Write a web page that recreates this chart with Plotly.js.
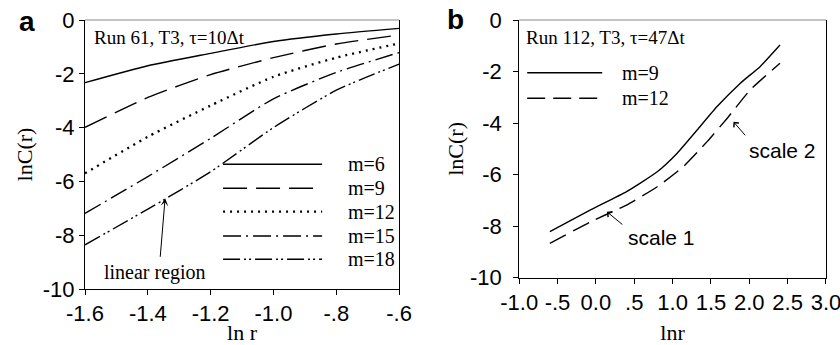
<!DOCTYPE html>
<html>
<head>
<meta charset="utf-8">
<script src="https://cdn.plot.ly/plotly-3.0.1.min.js"></script>
<style>
html,body{margin:0;padding:0;background:#fff;}
#chart{width:840px;height:345px;}
</style>
</head>
<body>
<div id="chart"></div>
<script>
// ---------- DATA ----------
// Panel a: Run 61, T3, tau=10Δt
const xA = [-1.6, -1.4, -1.2, -1.0, -0.8, -0.6];
const aM6  = [-2.33, -1.70, -1.24, -0.80, -0.52, -0.31];
const aM9  = [-3.99, -2.88, -2.03, -1.40, -0.89, -0.56];
const aM12 = [-5.70, -4.34, -3.18, -2.11, -1.40, -0.87];
const aM15 = [-7.19, -5.82, -4.40, -2.93, -1.95, -1.21];
const aM18 = [-8.36, -7.03, -5.64, -4.00, -2.61, -1.64];
const aNames = ["m=6", "m=9", "m=12", "m=15", "m=18"];

// Panel b: Run 112, T3, tau=47Δt
const xB9  = [-0.6, -0.07, 0.40, 0.80, 1.06, 1.32, 1.58, 1.88, 2.14, 2.40];
const bM9  = [-8.21, -7.37, -6.66, -5.89, -5.17, -4.27, -3.36, -2.46, -1.81, -0.97];
const xB12 = [-0.6, -0.07, 0.40, 0.80, 1.14, 1.45, 1.71, 2.01, 2.40];
const bM12 = [-8.67, -7.83, -7.18, -6.47, -5.69, -4.72, -3.82, -2.72, -1.68];
const bNames = ["m=9", "m=12"];

// Tick labels
const xTickValsA = [-1.6, -1.4, -1.2, -1.0, -0.8, -0.6];
const xTickTextA = ["-1.6", "-1.4", "-1.2", "-1.0", "-.8", "-.6"];
const xTickValsB = [-1.0, -0.5, 0.0, 0.5, 1.0, 1.5, 2.0, 2.5, 3.0];
const xTickTextB = ["-1.0", "-.5", "0.0", ".5", "1.0", "1.5", "2.0", "2.5", "3.0"];
const yTickVals = [0, -2, -4, -6, -8, -10];
const yTickText = ["0", "-2", "-4", "-6", "-8", "-10"];

// ---------- STYLE / LAYOUT ----------
const W = 840, H = 345, ML = 85, MR = 14.3, MT = 20, MB = 56;
const PW = W - ML - MR, PH = H - MT - MB;
const px = v => (v - ML) / PW;          // pixel x -> paper x
const py = v => (H - MB - v) / PH;      // pixel y -> paper y

const SANS = "Arial, 'Liberation Sans', sans-serif";
const SERIF = "'Times New Roman', 'Liberation Serif', serif";
const LW = 1.4;
const dashA = ["solid", "24px,9px", "2px,5px", "18px,5px,2px,5px", "17px,4px,2px,3px,2px,4px"];
const widthA = [LW, LW, 2.3, LW, LW];
const dashB = ["solid", "18px,8px"];
const seriesA = [aM6, aM9, aM12, aM15, aM18];

const traces = [];
seriesA.forEach((ys, i) => {
  traces.push({
    x: xA, y: ys, name: aNames[i], type: "scatter", mode: "lines",
    xaxis: "x", yaxis: "y", showlegend: false,
    line: {color: "#000", width: widthA[i], dash: dashA[i], shape: "spline", smoothing: 0.6}
  });
});
traces.push({x: xB9, y: bM9, name: bNames[0], type: "scatter", mode: "lines",
  xaxis: "x2", yaxis: "y2", showlegend: false,
  line: {color: "#000", width: LW, dash: dashB[0], shape: "spline", smoothing: 0.5}});
traces.push({x: xB12, y: bM12, name: bNames[1], type: "scatter", mode: "lines",
  xaxis: "x2", yaxis: "y2", showlegend: false,
  line: {color: "#000", width: LW, dash: dashB[1], shape: "spline", smoothing: 0.5}});

const axisCommon = {
  showgrid: false, zeroline: false, showline: true, linecolor: "#000", linewidth: 1,
  ticks: "outside", ticklen: 5, tickwidth: 1, tickcolor: "#000",
  ticklabeloverflow: "allow",
  tickfont: {family: SANS, size: 22, color: "#000"}, fixedrange: true
};

const domA = [0, px(399)], domB = [px(519), 1];
const domBy = [py(277.7), 1];

const shapes = [];
const annotations = [];

// Box edges (top grey, right via mirror)
shapes.push({type: "line", xref: "paper", yref: "paper", x0: domA[0], x1: domA[1], y0: 1, y1: 1,
  line: {color: "#888", width: 1}});
shapes.push({type: "line", xref: "paper", yref: "paper", x0: domB[0], x1: domB[1], y0: 1, y1: 1,
  line: {color: "#888", width: 1}});

// Legend panel a
const legRowsA = [164.3, 188.3, 211.7, 236, 259.3];
aNames.forEach((nm, i) => {
  shapes.push({type: "line", xref: "paper", yref: "paper",
    x0: px(223), x1: px(322), y0: py(legRowsA[i]), y1: py(legRowsA[i]),
    line: {color: "#000", width: widthA[i], dash: dashA[i]}});
  annotations.push({xref: "paper", yref: "paper", x: px(346), y: py(legRowsA[i]),
    xanchor: "left", yanchor: "middle", showarrow: false, text: nm,
    font: {family: SERIF, size: 20, color: "#000"}});
});
// Legend panel b
const legRowsB = [72.7, 98.3];
bNames.forEach((nm, i) => {
  shapes.push({type: "line", xref: "paper", yref: "paper",
    x0: px(527), x1: px(602), y0: py(legRowsB[i]), y1: py(legRowsB[i]),
    line: {color: "#000", width: LW, dash: dashB[i]}});
  annotations.push({xref: "paper", yref: "paper", x: px(620), y: py(legRowsB[i]),
    xanchor: "left", yanchor: "middle", showarrow: false, text: nm,
    font: {family: SERIF, size: 20, color: "#000"}});
});

// Panel labels
annotations.push({xref: "paper", yref: "paper", x: px(17), y: py(21), xanchor: "left", yanchor: "middle",
  showarrow: false, text: "<b>a</b>", font: {family: SANS, size: 28, color: "#000"}});
annotations.push({xref: "paper", yref: "paper", x: px(445), y: py(19), xanchor: "left", yanchor: "middle",
  showarrow: false, text: "<b>b</b>", font: {family: SANS, size: 28, color: "#000"}});

// Run info
annotations.push({xref: "paper", yref: "paper", x: px(92), y: py(37), xanchor: "left", yanchor: "middle",
  showarrow: false, text: "Run 61, T3, τ=10Δt", font: {family: SERIF, size: 19, color: "#000"}});
annotations.push({xref: "paper", yref: "paper", x: px(524), y: py(37), xanchor: "left", yanchor: "middle",
  showarrow: false, text: "Run 112, T3, τ=47Δt", font: {family: SERIF, size: 19, color: "#000"}});

// Annotated regions
annotations.push({xref: "paper", yref: "paper", x: px(155), y: py(272), xanchor: "center", yanchor: "middle",
  showarrow: false, text: "linear region", font: {family: SERIF, size: 20, color: "#000"}});
annotations.push({xref: "x", yref: "y", x: -1.345, y: -6.63, ax: -5, ay: 60, text: "",
  showarrow: true, arrowhead: 3, arrowsize: 1.3, arrowwidth: 1, arrowcolor: "#000"});

annotations.push({xref: "paper", yref: "paper", x: px(661), y: py(237), xanchor: "center", yanchor: "middle",
  showarrow: false, text: "scale 1", font: {family: SANS, size: 21, color: "#000"}});
annotations.push({xref: "x2", yref: "y2", x: 0.143, y: -7.44, ax: 17, ay: 14, text: "",
  showarrow: true, arrowhead: 4, arrowsize: 1.3, arrowwidth: 1, arrowcolor: "#000"});
annotations.push({xref: "paper", yref: "paper", x: px(782), y: py(150), xanchor: "center", yanchor: "middle",
  showarrow: false, text: "scale 2", font: {family: SANS, size: 21, color: "#000"}});
annotations.push({xref: "x2", yref: "y2", x: 1.794, y: -3.95, ax: 13, ay: 15, text: "",
  showarrow: true, arrowhead: 4, arrowsize: 1.3, arrowwidth: 1, arrowcolor: "#000"});

const layout = {
  width: W, height: H,
  margin: {l: ML, r: MR, t: MT, b: MB, pad: 0},
  paper_bgcolor: "#fff", plot_bgcolor: "#fff",
  showlegend: false,
  xaxis: Object.assign({}, axisCommon, {
    domain: domA, anchor: "y", range: [-1.6, -0.6],
    tickmode: "array", tickvals: xTickValsA, ticktext: xTickTextA,
    title: {text: "ln r", font: {family: SERIF, size: 22, color: "#000"}, standoff: 7}
  }),
  yaxis: Object.assign({}, axisCommon, {
    domain: [0, 1], anchor: "x", range: [-10, 0], mirror: true,
    tickmode: "array", tickvals: yTickVals, ticktext: yTickText,
    title: {text: "lnC(r)", font: {family: SERIF, size: 22, color: "#000"}, standoff: 4}
  }),
  xaxis2: Object.assign({}, axisCommon, {
    domain: domB, anchor: "y2", range: [-1, 3],
    tickmode: "array", tickvals: xTickValsB, ticktext: xTickTextB,
    title: {text: "lnr", font: {family: SERIF, size: 22, color: "#000"}, standoff: 18}
  }),
  yaxis2: Object.assign({}, axisCommon, {
    domain: domBy, anchor: "x2", range: [-10, 0], mirror: true,
    ticklabelstandoff: 7,
    tickmode: "array", tickvals: yTickVals, ticktext: yTickText,
    title: {text: "lnC(r)", font: {family: SERIF, size: 22, color: "#000"}, standoff: 0}
  }),
  shapes: shapes,
  annotations: annotations
};

Plotly.newPlot("chart", traces, layout, {staticPlot: true, displayModeBar: false});
</script>
</body>
</html>
